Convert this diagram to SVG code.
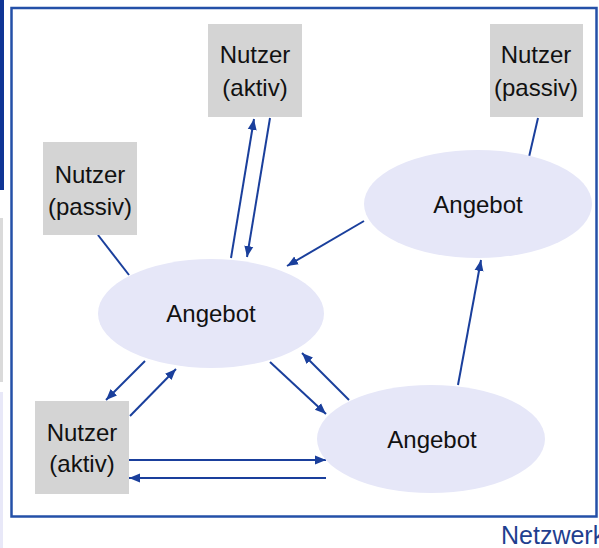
<svg xmlns="http://www.w3.org/2000/svg" width="599" height="548" viewBox="0 0 599 548">
<style>
.box{fill:#d4d4d4}
.ell{fill:#e6e7f8}
.t{font-family:"Liberation Sans",Arial,sans-serif;font-size:24px;fill:#111;text-anchor:middle}
.c{stroke:#1a3f9c;stroke-width:2;fill:none}
</style>
<defs>
<marker id="ah" markerUnits="userSpaceOnUse" markerWidth="12" markerHeight="12" viewBox="0 0 12 12" refX="11" refY="6" orient="auto">
<path d="M0,1.5 L11,6 L0,10.5 Z" fill="#1a3f9c"/>
</marker>
</defs>
<rect x="0" y="0" width="599" height="548" fill="#fff"/>
<rect x="0" y="0" width="4" height="190" fill="#0f3595"/>
<rect x="0" y="218" width="3" height="164" fill="#dadada"/>
<rect x="0" y="392" width="3" height="156" fill="#e8e8f8"/>
<rect x="11.5" y="8" width="585" height="508.5" fill="none" stroke="#2450a8" stroke-width="2.5"/>
<text x="501" y="544" font-family="Liberation Sans,Arial,sans-serif" font-size="25" fill="#1f3f8f">Netzwerk</text>

<g id="connectors">
<line class="c" x1="231" y1="258" x2="254" y2="119" marker-end="url(#ah)"/>
<line class="c" x1="270" y1="118" x2="247" y2="257" marker-end="url(#ah)"/>
<line class="c" x1="364" y1="221" x2="287" y2="266" marker-end="url(#ah)"/>
<line class="c" x1="538" y1="118" x2="529" y2="157"/>
<line class="c" x1="98" y1="235" x2="129" y2="275"/>
<line class="c" x1="458" y1="385" x2="481" y2="260" marker-end="url(#ah)"/>
<line class="c" x1="270" y1="362" x2="326" y2="414" marker-end="url(#ah)"/>
<line class="c" x1="349" y1="400" x2="302" y2="353" marker-end="url(#ah)"/>
<line class="c" x1="145" y1="361" x2="106" y2="400" marker-end="url(#ah)"/>
<line class="c" x1="130" y1="416" x2="176" y2="369" marker-end="url(#ah)"/>
<line class="c" x1="129" y1="460" x2="326" y2="460" marker-end="url(#ah)"/>
<line class="c" x1="326" y1="478" x2="129" y2="478" marker-end="url(#ah)"/>
</g>

<g id="nutzer-aktiv-top">
<rect class="box" x="208" y="24" width="94" height="93"/>
<text class="t" x="255" y="63">Nutzer</text>
<text class="t" x="255" y="96">(aktiv)</text>
</g>
<g id="nutzer-passiv-right">
<rect class="box" x="490" y="24" width="93" height="93"/>
<text class="t" x="536" y="63">Nutzer</text>
<text class="t" x="536" y="96">(passiv)</text>
</g>
<g id="nutzer-passiv-left">
<rect class="box" x="43" y="142" width="94" height="93"/>
<text class="t" x="90" y="183">Nutzer</text>
<text class="t" x="90" y="215">(passiv)</text>
</g>
<g id="nutzer-aktiv-bottom">
<rect class="box" x="35" y="401" width="94" height="93"/>
<text class="t" x="82" y="441">Nutzer</text>
<text class="t" x="82" y="472">(aktiv)</text>
</g>
<g id="angebot-left">
<ellipse class="ell" cx="211" cy="313.5" rx="113" ry="54.5"/>
<text class="t" x="211" y="322">Angebot</text>
</g>
<g id="angebot-right">
<ellipse class="ell" cx="478" cy="204" rx="114" ry="54"/>
<text class="t" x="478" y="213">Angebot</text>
</g>
<g id="angebot-bottom">
<ellipse class="ell" cx="431" cy="439" rx="114" ry="54"/>
<text class="t" x="432" y="448">Angebot</text>
</g>
</svg>
